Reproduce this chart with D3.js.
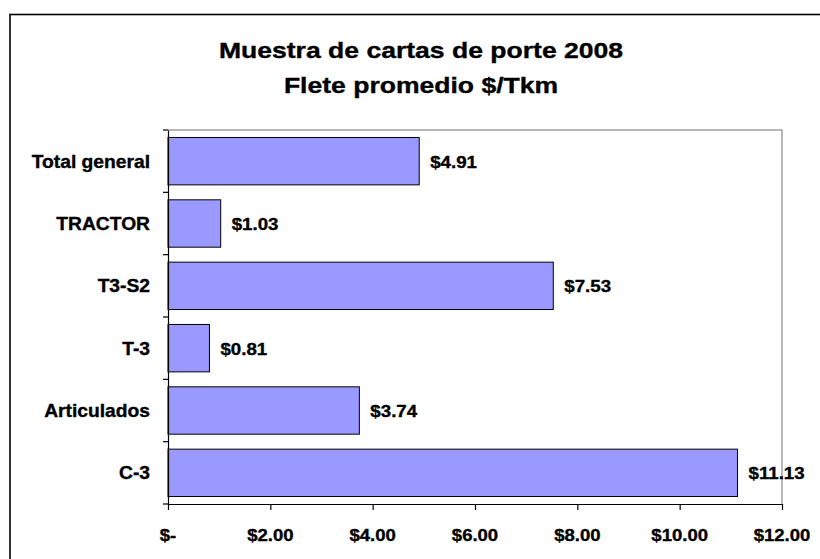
<!DOCTYPE html>
<html><head><meta charset="utf-8">
<script src="https://cdn.jsdelivr.net/npm/d3@7/dist/d3.min.js"></script>
<style>body{margin:0;background:#fff}svg{display:block}text{font-family:"Liberation Sans",Arial,sans-serif;font-weight:bold;fill:#000;stroke:#000;stroke-width:0.35px}</style>
</head><body><svg id="c" width="820" height="559"></svg>
<script>
const titleLines = ["Muestra de cartas de porte 2008", "Flete promedio $/Tkm"];
const categories = ["Total general", "TRACTOR", "T3-S2", "T-3", "Articulados", "C-3"];
const values = [4.91, 1.03, 7.53, 0.81, 3.74, 11.13];
const xTickValues = [0, 2, 4, 6, 8, 10, 12];
const xTickLabels = ["$-", "$2.00", "$4.00", "$6.00", "$8.00", "$10.00", "$12.00"];

const svg = d3.select("#c");
const L = 168, R = 782, T = 130, B = 504;

// outer chart border (cut off at right/bottom)
svg.append("rect").attr("x", 10).attr("y", 14.5).attr("width", 830).attr("height", 600)
  .attr("fill", "none").attr("stroke", "#000").attr("stroke-width", 1.6);

function stext(parent, x, y, s, size, sx, anchor) {
  const g = parent.append("g").attr("transform", `translate(${x},${y}) scale(${sx},1)`);
  g.append("text").attr("font-size", size).attr("text-anchor", anchor).text(s);
  return g;
}

// title
stext(svg, 421, 57.5, titleLines[0], 22.5, 1.18, "middle");
stext(svg, 421, 92.5, titleLines[1], 22.5, 1.18, "middle");

const x = d3.scaleLinear().domain([0, 12]).range([L, R]);
const y = d3.scaleBand().domain(categories).range([T, B]).paddingInner(0.24).paddingOuter(0.12);

// plot border top/right
svg.append("path").attr("d", `M${L},${T}H${R}V${B}`).attr("fill", "none")
  .attr("stroke", "#a0a0a0").attr("stroke-width", 1.5);

// bars
svg.append("g").selectAll("rect").data(categories).join("rect")
  .attr("x", x(0)).attr("y", d => y(d))
  .attr("width", (d, i) => x(values[i]) - x(0))
  .attr("height", y.bandwidth())
  .attr("fill", "#9999ff").attr("stroke", "#000").attr("stroke-width", 1);

// x axis
const xa = svg.append("g").attr("transform", `translate(0,${B})`)
  .call(d3.axisBottom(x).tickValues(xTickValues).tickSize(6).tickSizeOuter(0).tickFormat(""));
xa.selectAll("path,line").attr("stroke", "#000").attr("stroke-width", 1.2);
xTickValues.forEach((v, i) => stext(svg, x(v), 541, xTickLabels[i], 17, 1.09, "middle"));

// y axis
const ya = svg.append("g").attr("transform", `translate(${L},0)`)
  .call(d3.axisLeft(y).tickSize(0).tickSizeOuter(0).tickFormat(""));
ya.selectAll("path").attr("stroke", "#000").attr("stroke-width", 1.2);
const step = y.step();
const y0 = y.range()[0];
d3.range(categories.length + 1).forEach(i => {
  svg.append("line").attr("x1", L - 5).attr("x2", L).attr("y1", y0 + i * step).attr("y2", y0 + i * step)
    .attr("stroke", "#000").attr("stroke-width", 1.2);
});
categories.forEach(c => stext(svg, 150, y(c) + y.bandwidth() / 2 + 6.5, c, 17.5, 1.1, "end"));

// value labels
categories.forEach((c, i) => stext(svg, x(values[i]) + 11, y(c) + y.bandwidth() / 2 + 6.5,
  "$" + values[i].toFixed(2), 17, 1.1, "start"));
</script></body></html>
